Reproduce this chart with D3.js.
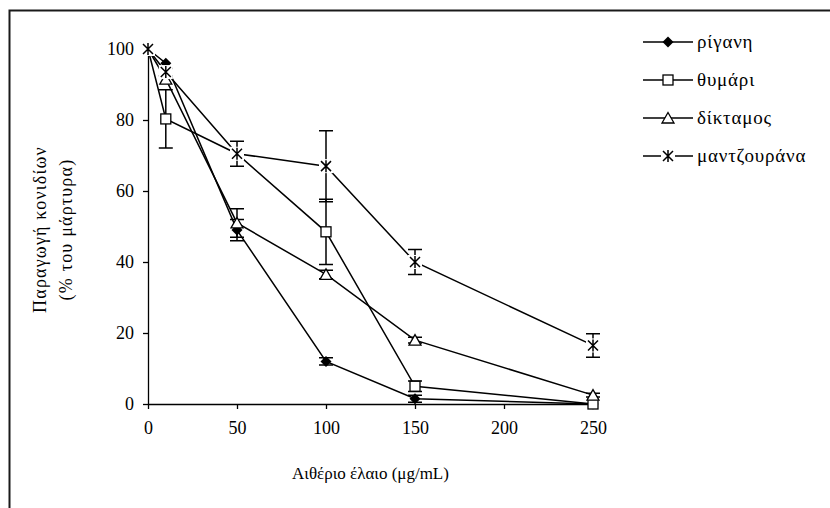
<!DOCTYPE html>
<html><head><meta charset="utf-8">
<script src="https://cdn.jsdelivr.net/npm/d3@7"></script>
<style>body{margin:0;background:#fff}svg{display:block}</style>
</head><body>
<svg id="c" width="830" height="508"></svg>
<script>
const xValues = [0, 10, 50, 100, 150, 250];
const xTicks = [0, 50, 100, 150, 200, 250];
const yTicks = [0, 20, 40, 60, 80, 100];
const seriesNames = ["ρίγανη", "θυμάρι", "δίκταμος", "μαντζουράνα"];
const rigani = [100, 96, 49, 12, 1.5, 0];
const riganiErr = [0, 0, 3, 1, 1, 0];
const thymari = [100, 80.3, 70.5, 48.5, 5, 0];
const thymariErr = [0, 8.2, 0, 9.2, 1.5, 0];
const diktamos = [100, 91.5, 51, 36.5, 18, 2.5];
const diktamosErr = [0, 0, 4, 1.2, 0.8, 0.5];
const mantz = [100, 93.5, 70.5, 67, 40, 16.5];
const mantzErr = [0, 1, 3.5, 10, 3.5, 3.3];
const xTitle = "Αιθέριο έλαιο (μg/mL)";
const yTitle1 = "Παραγωγή κονιδίων";
const yTitle2 = "(% του μάρτυρα)";

const series = [
  {name: seriesNames[0], v: rigani, e: riganiErr, m: "diamond"},
  {name: seriesNames[1], v: thymari, e: thymariErr, m: "square"},
  {name: seriesNames[2], v: diktamos, e: diktamosErr, m: "triangle"},
  {name: seriesNames[3], v: mantz, e: mantzErr, m: "asterisk"}
];

const svg = d3.select("#c");
const font = "Liberation Serif, Times New Roman, serif";
svg.append("rect").attr("x", 9.5).attr("y", 10.5).attr("width", 900).attr("height", 600)
  .attr("fill", "#fff").attr("stroke", "#1a1a1a").attr("stroke-width", 2);

const x = d3.scaleLinear().domain([0, 250]).range([148, 593]);
const y = d3.scaleLinear().domain([0, 100]).range([404, 49]);

const xa = svg.append("g").attr("transform", `translate(0,${y(0)})`)
  .call(d3.axisBottom(x).tickValues(xTicks).tickSize(5).tickPadding(12).tickSizeOuter(0));
const ya = svg.append("g").attr("transform", `translate(${x(0)},0)`)
  .call(d3.axisLeft(y).tickValues(yTicks).tickSize(5).tickPadding(9).tickSizeOuter(0));
[xa, ya].forEach(a => {
  a.select(".domain").attr("stroke", "#000").attr("stroke-width", 1.3);
  a.selectAll("line").attr("stroke", "#000").attr("stroke-width", 1.3);
  a.selectAll("text").attr("font-family", font).attr("font-size", 18).attr("fill", "#000");
});

svg.append("text").attr("x", x(125)).attr("y", 479).attr("text-anchor", "middle")
  .attr("font-family", font).attr("font-size", 17).text(xTitle);
const yc = (y(0) + y(100)) / 2 + 3;
svg.append("text").attr("transform", `translate(46,${yc}) rotate(-90)`).attr("text-anchor", "middle")
  .attr("font-family", font).attr("font-size", 18).attr("letter-spacing", 1.2).text(yTitle1);
svg.append("text").attr("transform", `translate(72,${yc}) rotate(-90)`).attr("text-anchor", "middle")
  .attr("font-family", font).attr("font-size", 18).attr("letter-spacing", 1.2).text(yTitle2);

function marker(g, type, cx, cy) {
  if (type === "diamond") {
    g.append("path").attr("d", `M${cx},${cy-5.5}L${cx+5.5},${cy}L${cx},${cy+5.5}L${cx-5.5},${cy}Z`).attr("fill", "#000");
  } else if (type === "square") {
    g.append("rect").attr("x", cx-5).attr("y", cy-5).attr("width", 10).attr("height", 10)
      .attr("fill", "#fff").attr("stroke", "#000").attr("stroke-width", 1.3);
  } else if (type === "triangle") {
    g.append("path").attr("d", `M${cx},${cy-5.5}L${cx+6},${cy+5}L${cx-6},${cy+5}Z`)
      .attr("fill", "#fff").attr("stroke", "#000").attr("stroke-width", 1.3);
  } else {
    g.append("rect").attr("x", cx-7).attr("y", cy-7).attr("width", 14).attr("height", 14).attr("fill", "#fff");
    g.append("path").attr("d", `M${cx-5},${cy-5}L${cx+5},${cy+5}M${cx+5},${cy-5}L${cx-5},${cy+5}M${cx},${cy-6}L${cx},${cy+6}`)
      .attr("stroke", "#000").attr("stroke-width", 1.5);
  }
}

const line = d3.line().x((d, i) => x(xValues[i])).y(d => y(d));
series.forEach(s => {
  const g = svg.append("g");
  g.append("path").attr("d", line(s.v)).attr("fill", "none").attr("stroke", "#000").attr("stroke-width", 1.5);
  s.v.forEach((v, i) => {
    const e = s.e[i];
    if (e > 0) {
      const cx = x(xValues[i]);
      g.append("path").attr("d", `M${cx},${y(v+e)}L${cx},${y(v-e)}M${cx-7},${y(v+e)}L${cx+7},${y(v+e)}M${cx-7},${y(v-e)}L${cx+7},${y(v-e)}`)
        .attr("stroke", "#000").attr("stroke-width", 1.5).attr("fill", "none");
    }
  });
  s.v.forEach((v, i) => marker(g, s.m, x(xValues[i]), y(v)));
});

// legend
const lg = svg.append("g");
series.forEach((s, i) => {
  const ly = 42 + i * 38;
  lg.append("line").attr("x1", 643).attr("x2", 693).attr("y1", ly).attr("y2", ly)
    .attr("stroke", "#000").attr("stroke-width", 1.5);
  marker(lg, s.m, 668, ly);
  lg.append("text").attr("x", 697).attr("y", ly + 6).attr("font-family", font).attr("font-size", 19)
    .attr("letter-spacing", 0.8).text(s.name);
});
</script>
</body></html>
